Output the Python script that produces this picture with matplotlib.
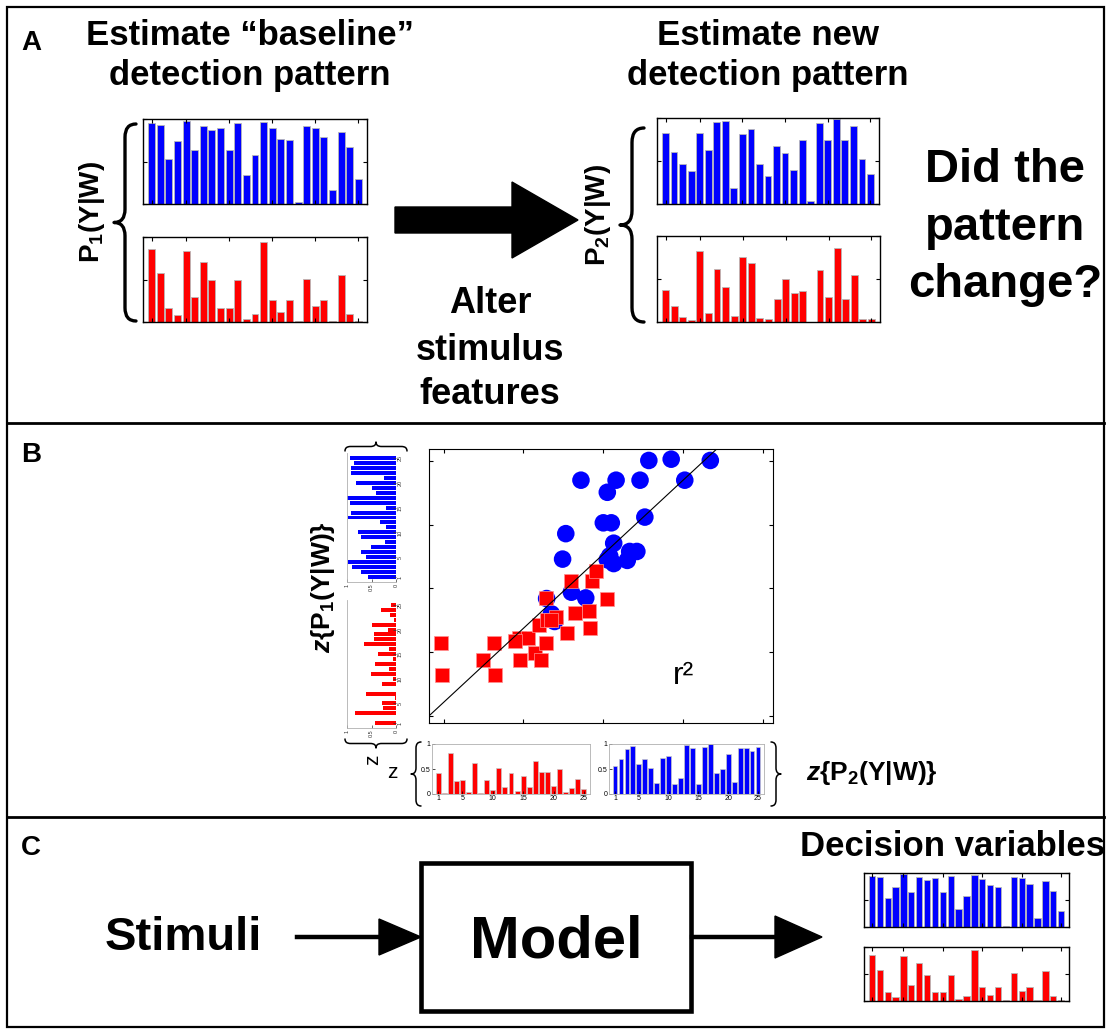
import matplotlib
matplotlib.use('Agg')
import matplotlib.pyplot as plt
from matplotlib.path import Path
from matplotlib.patches import PathPatch, Polygon, Rectangle
import numpy as np

plt.rcParams['font.family'] = ['Liberation Sans', 'DejaVu Sans']
plt.rcParams['mathtext.fontset'] = 'custom'
plt.rcParams['mathtext.rm'] = 'Liberation Sans'
plt.rcParams['mathtext.bf'] = 'Liberation Sans:bold'
plt.rcParams['mathtext.it'] = 'Liberation Sans:italic'
plt.rcParams['mathtext.bfit'] = 'Liberation Sans:italic:bold'

# ---------------- data ----------------
bar_index = np.arange(1, 26)
bar_ticks = [1, 5, 10, 15, 20, 25]

base_blue = [0.95, 0.93, 0.53, 0.74, 0.98, 0.64, 0.92, 0.87, 0.90, 0.64, 0.95, 0.34, 0.58,
             0.96, 0.89, 0.77, 0.75, 0.02, 0.92, 0.90, 0.79, 0.16, 0.85, 0.67, 0.29]
base_red = [0.855, 0.58, 0.17, 0.08, 0.83, 0.29, 0.71, 0.49, 0.17, 0.17, 0.49, 0.03, 0.09,
            0.94, 0.26, 0.12, 0.26, 0.01, 0.51, 0.19, 0.26, 0.01, 0.55, 0.09, 0.01]
new_blue = [0.82, 0.60, 0.46, 0.38, 0.82, 0.63, 0.95, 0.96, 0.19, 0.81, 0.87, 0.46, 0.33,
            0.68, 0.59, 0.40, 0.75, 0.03, 0.94, 0.75, 0.99, 0.75, 0.91, 0.52, 0.35]
new_red = [0.37, 0.19, 0.06, 0.02, 0.82, 0.11, 0.62, 0.41, 0.07, 0.76, 0.69, 0.05, 0.03,
           0.27, 0.50, 0.34, 0.36, 0.00, 0.60, 0.29, 0.86, 0.27, 0.55, 0.03, 0.03]

# panel B marginal histograms (z-scored patterns)
zp1_blue = [0.57, 0.71, 0.90, 0.97, 0.61, 0.71, 0.52, 0.22, 0.72, 0.77, 0.20, 0.32, 0.98,
            0.92, 0.20, 0.94, 1.00, 0.41, 0.50, 0.81, 0.24, 0.92, 0.92, 0.86, 0.93]
zp1_red = [0.43, 0.01, 0.83, 0.26, 0.28, 0.03, 0.62, 0.01, 0.28, 0.07, 0.52, 0.14, 0.43,
           0.06, 0.37, 0.14, 0.66, 0.45, 0.45, 0.16, 0.50, 0.04, 0.12, 0.30, 0.10]
zp2_red = [0.43, 0.02, 0.83, 0.27, 0.29, 0.04, 0.62, 0.02, 0.29, 0.08, 0.52, 0.14, 0.43,
           0.06, 0.37, 0.14, 0.67, 0.45, 0.45, 0.16, 0.50, 0.04, 0.13, 0.31, 0.10]
zp2_blue = [0.56, 0.71, 0.90, 0.96, 0.60, 0.71, 0.52, 0.23, 0.73, 0.77, 0.20, 0.33, 0.98,
            0.92, 0.20, 0.94, 1.00, 0.42, 0.50, 0.81, 0.25, 0.92, 0.92, 0.86, 0.94]

# panel B scatter: z{P2} (x) vs z{P1} (y)
blue_x = [2.57, 2.85, 3.34, 1.72, 2.16, 2.46, 3.02, 2.05, 2.52, 2.00, 2.10, 1.53, 2.13,
          1.49, 2.08, 2.33, 2.42, 2.13, 2.30, 1.60, 1.78, 1.29, 1.39, 2.05, 1.35]
blue_y = [4.01, 4.03, 4.01, 3.70, 3.70, 3.70, 3.70, 3.51, 3.12, 3.03, 3.03, 2.86, 2.71,
          2.46, 2.51, 2.58, 2.58, 2.39, 2.44, 1.94, 1.85, 1.84, 1.48, 2.45, 1.60]
red_x = [-0.03, -0.02, 0.63, 0.49, 0.64, 0.95, 1.06, 0.96, 1.14, 1.22, 1.28, 1.20, 1.30,
         1.41, 1.28, 1.54, 1.60, 1.64, 1.82, 1.83, 1.86, 1.91, 2.05, 1.35, 0.90]
red_y = [1.14, 0.64, 1.14, 0.88, 0.64, 1.22, 1.22, 0.88, 0.98, 0.88, 1.14, 1.42, 1.51,
         1.55, 1.85, 1.30, 2.11, 1.62, 1.65, 1.37, 2.11, 2.28, 1.83, 1.50, 1.18]
fit_x = [-0.18, 3.42]
fit_y = [0.0, 4.19]

# ---------------- figure ----------------
W, H = 1107, 1030
fig = plt.figure(figsize=(W / 100, H / 100), dpi=100)
ov = fig.add_axes([0, 0, 1, 1])
ov.set_xlim(0, W)
ov.set_ylim(H, 0)
ov.axis('off')


def pbox(x0, y0, x1, y1):
    return [x0 / W, 1 - y1 / H, (x1 - x0) / W, (y1 - y0) / H]


def brace(p0, p1, nvec, depth, lw):
    p0 = np.array(p0, float)
    p1 = np.array(p1, float)
    L = np.linalg.norm(p1 - p0)
    d = (p1 - p0) / L
    n = np.array(nvec, float)
    h = depth / 2.0
    r = min(h * 1.2, L / 8)
    loc = [(0, 0), (0, h), (r, h), (L / 2 - r, h), (L / 2, h), (L / 2, depth),
           (L / 2, h), (L / 2 + r, h), (L - r, h), (L, h), (L, 0)]
    codes = [Path.MOVETO, Path.CURVE3, Path.CURVE3, Path.LINETO, Path.CURVE3, Path.CURVE3,
             Path.CURVE3, Path.CURVE3, Path.LINETO, Path.CURVE3, Path.CURVE3]
    pts = [p0 + s * d + t * n for s, t in loc]
    ov.add_patch(PathPatch(Path(pts, codes), fill=False, lw=lw, color='black',
                           capstyle='round', joinstyle='round'))


# borders
ov.add_patch(Rectangle((7, 7), 1097, 1020, fill=False, lw=1.6, color='black'))
ov.plot([7, 1104], [423, 423], color='black', lw=2.0)
ov.plot([7, 1104], [817, 817], color='black', lw=2.0)

# panel letters
for lab, y in [('A', 50), ('B', 462), ('C', 855)]:
    ov.text(21, y, lab, fontsize=20, fontweight='bold', ha='left', va='baseline')

# ---------------- panel A ----------------
tfs = 25
ov.text(250, 45, 'Estimate \u201cbaseline\u201d', fontsize=tfs, fontweight='bold', ha='center', va='baseline')
ov.text(250, 85, 'detection pattern', fontsize=tfs, fontweight='bold', ha='center', va='baseline')
ov.text(768, 45, 'Estimate new', fontsize=tfs, fontweight='bold', ha='center', va='baseline')
ov.text(768, 85, 'detection pattern', fontsize=tfs, fontweight='bold', ha='center', va='baseline')

for s, y in [('Did the', 182), ('pattern', 240), ('change?', 297)]:
    ov.text(1005, y, s, fontsize=34, fontweight='bold', ha='center', va='baseline')
for s, y in [('Alter', 313), ('stimulus', 360), ('features', 404)]:
    ov.text(490, y, s, fontsize=26, fontweight='bold', ha='center', va='baseline')

ov.text(92, 212, r'$\mathbf{P_1(Y|W)}$', fontsize=20, rotation=90, ha='center', va='center')
ov.text(598, 215, r'$\mathbf{P_2(Y|W)}$', fontsize=20, rotation=90, ha='center', va='center')

brace((136, 124), (136, 321), (-1, 0), 22, 2.4)
brace((644, 128), (644, 322), (-1, 0), 24, 2.4)

ov.add_patch(Polygon([(395, 207), (512, 207), (512, 182), (578, 220), (512, 258), (512, 233),
                      (395, 233)], closed=True, color='black'))


def small_bar(rect, vals, color):
    ax = fig.add_axes(pbox(*rect))
    ax.bar(bar_index, vals, width=0.8, color=color, edgecolor='#b8b8b8', linewidth=0.6)
    ax.set_xlim(0, 26)
    ax.set_ylim(0, 1)
    ax.set_xticks(bar_ticks)
    ax.set_yticks([0, 0.5, 1])
    ax.tick_params(direction='in', top=True, right=True, labelbottom=False, labelleft=False,
                   length=3, width=0.8)
    for sp in ax.spines.values():
        sp.set_linewidth(1.0)
    return ax


small_bar((143, 119, 367, 204), base_blue, '#0000ff')
small_bar((143, 237, 367, 322), base_red, '#ff0000')
small_bar((657, 118, 879, 204), new_blue, '#0000ff')
small_bar((657, 236, 880, 322), new_red, '#ff0000')

# ---------------- panel B ----------------
sc = fig.add_axes(pbox(429, 449, 773, 723))
sc.scatter(blue_x, blue_y, s=160, marker='o', color='#0000ff', edgecolors='none', zorder=2)
sc.scatter(red_x, red_y, s=105, marker='s', color='#ff0000', edgecolors='#ff9090',
           linewidths=0.5, zorder=3)
sc.plot(fit_x, fit_y, color='black', lw=0.8, zorder=4)
sc.set_xlim(-0.183, 4.125)
sc.set_ylim(-0.115, 4.19)
sc.set_xticks([0, 1, 2, 3, 4])
sc.set_yticks([0, 1, 2, 3, 4])
sc.tick_params(direction='in', top=True, right=True, labelbottom=False, labelleft=False,
               length=3, width=0.8)
sc.text(0.74, 0.17, 'r\u00b2', transform=sc.transAxes, fontsize=23, ha='center', va='center')

frame_gray = '#b0b0b0'


def side_hist(rect, vals, color):
    ax = fig.add_axes(pbox(*rect))
    ax.barh(bar_index, vals, height=0.8, color=color, edgecolor='none')
    ax.set_xlim(1, 0)
    ax.set_ylim(0, 26)
    ax.set_yticks(bar_ticks)
    ax.set_xticks([1, 0.5, 0])
    ax.set_xticklabels(['1', '0.5', '0'], rotation=90)
    ax.set_yticklabels([str(t) for t in bar_ticks], rotation=90, va='center')
    ax.yaxis.tick_right()
    ax.tick_params(direction='in', labelsize=4, length=2, width=0.5, pad=1, colors='#333333')
    for k, sp in ax.spines.items():
        sp.set_color(frame_gray)
        sp.set_linewidth(0.6)
    ax.spines['top'].set_visible(False)
    ax.spines['right'].set_visible(False)
    return ax


side_hist((347, 453, 396, 582), zp1_blue, '#0000ff')
side_hist((347, 600, 396, 728), zp1_red, '#ff0000')


def bottom_hist(rect, vals, color):
    ax = fig.add_axes(pbox(*rect))
    ax.bar(bar_index, vals, width=0.8, color=color, edgecolor='#c8c8c8', linewidth=0.5)
    ax.set_xlim(0, 26)
    ax.set_ylim(0, 1)
    ax.set_xticks(bar_ticks)
    ax.set_yticks([0, 0.5, 1])
    ax.set_yticklabels(['0', '0.5', '1'])
    ax.tick_params(direction='in', labelsize=5, length=2, width=0.5, pad=1)
    for sp in ax.spines.values():
        sp.set_color(frame_gray)
        sp.set_linewidth(0.6)
    return ax


bottom_hist((432, 744, 590, 794), zp2_red, '#ff0000')
bottom_hist((609, 744, 764, 794), zp2_blue, '#0000ff')

brace((345, 451), (407, 451), (0, -1), 9, 1.1)
brace((345, 739), (407, 739), (0, 1), 9, 1.1)
brace((421, 742), (421, 806), (-1, 0), 10, 1.1)
brace((771, 742), (771, 806), (1, 0), 10, 1.1)

ov.text(323, 587, r'$\mathbfit{z}\mathbf{\{P_1(Y|W)\}}$', fontsize=19, rotation=90,
        ha='center', va='center')
ov.text(806, 773, r'$\mathbfit{z}\mathbf{\{P_2(Y|W)\}}$', fontsize=19, ha='left', va='center')
ov.text(373, 760, 'z', fontsize=15, rotation=90, ha='center', va='center')
ov.text(392, 772, 'z', fontsize=15, ha='center', va='center')

# ---------------- panel C ----------------
ov.text(183, 950, 'Stimuli', fontsize=34, fontweight='bold', ha='center', va='baseline')
ov.add_patch(Rectangle((421, 863), 270, 148, fill=False, lw=3.3, color='black'))
ov.text(556, 958, 'Model', fontsize=43, fontweight='bold', ha='center', va='baseline')
ov.text(800, 856, 'Decision variables', fontsize=25, fontweight='bold', ha='left', va='baseline')

ov.plot([297, 385], [937, 937], color='black', lw=3.2)
ov.add_patch(Polygon([(379, 919), (421, 937), (379, 955)], closed=True, color='black'))
ov.plot([692, 780], [937, 937], color='black', lw=3.2)
ov.add_patch(Polygon([(775, 916), (822, 937), (775, 958)], closed=True, color='black'))

small_bar((864, 873, 1069, 927), base_blue, '#0000ff')
small_bar((864, 947, 1069, 1001), base_red, '#ff0000')

fig.savefig('out.png', dpi=100)
